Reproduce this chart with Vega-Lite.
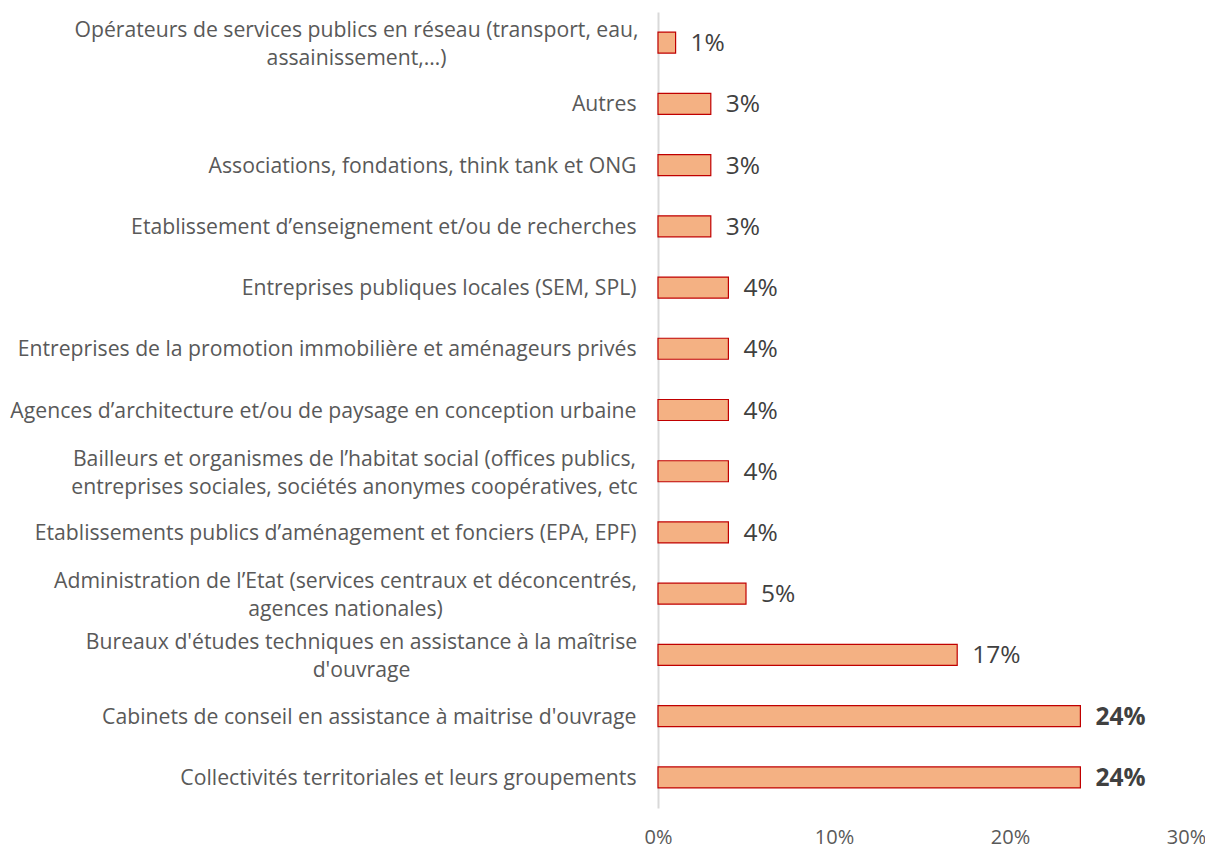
{
  "$schema": "https://vega.github.io/schema/vega-lite/v6.json",
  "width": 528,
  "height": 796,
  "autosize": {"type": "none"},
  "padding": {"left": 658, "top": 12, "right": 19, "bottom": 41},
  "background": "white",
  "config": {"view": {"stroke": null}, "font": "Open Sans"},
  "data": {
    "values": [
      {"categorie": "Opérateurs de services publics en réseau (transport, eau,|assainissement,…)", "pct": 1},
      {"categorie": "Autres", "pct": 3},
      {"categorie": "Associations, fondations, think tank et ONG", "pct": 3},
      {"categorie": "Etablissement d’enseignement et/ou de recherches", "pct": 3},
      {"categorie": "Entreprises publiques locales (SEM, SPL)", "pct": 4},
      {"categorie": "Entreprises de la promotion immobilière et aménageurs privés", "pct": 4},
      {"categorie": "Agences d’architecture et/ou de paysage en conception urbaine", "pct": 4},
      {"categorie": "Bailleurs et organismes de l’habitat social (offices publics,|entreprises sociales, sociétés anonymes coopératives, etc", "pct": 4},
      {"categorie": "Etablissements publics d’aménagement et fonciers (EPA, EPF)", "pct": 4},
      {"categorie": "Administration de l’Etat (services centraux et déconcentrés,|agences nationales)", "pct": 5},
      {"categorie": "Bureaux d'études techniques en assistance à la maîtrise|d'ouvrage", "pct": 17},
      {"categorie": "Cabinets de conseil en assistance à maitrise d'ouvrage", "pct": 24},
      {"categorie": "Collectivités territoriales et leurs groupements", "pct": 24}
    ]
  },
  "encoding": {
    "y": {
      "field": "categorie",
      "type": "nominal",
      "sort": null,
      "title": null,
      "axis": {
        "labelExpr": "split(datum.value, '|')",
        "labelFontSize": 21.2,
        "labelColor": "#595959",
        "labelLineHeight": 28,
        "labelLimit": 700,
        "labelOffset": {"condition": {"test": "indexof(datum.value, '|') >= 0", "value": -11.5}, "value": 1.5},
        "labelAlign": {"condition": {"test": "indexof(datum.value, '|') >= 0", "value": "center"}, "value": "right"},
        "labelPadding": {
          "condition": [
            {"test": "indexof(datum.value, 'Opérateurs') == 0", "value": 302},
            {"test": "indexof(datum.value, 'Bailleurs') == 0", "value": 304},
            {"test": "indexof(datum.value, 'Administration') == 0", "value": 313},
            {"test": "indexof(datum.value, 'Bureaux') == 0", "value": 297}
          ],
          "value": 22
        },
        "ticks": false,
        "domainColor": "#D9D9D9",
        "domainWidth": 2,
        "grid": false
      }
    },
    "x": {
      "field": "pct",
      "type": "quantitative",
      "scale": {"domain": [0, 30]},
      "title": null,
      "axis": {
        "values": [0, 10, 20, 30],
        "labelExpr": "datum.value + '%'",
        "labelFontSize": 20,
        "labelColor": "#595959",
        "labelPadding": 19,
        "labelFlush": false,
        "domain": false,
        "ticks": false,
        "grid": false
      }
    }
  },
  "layer": [
    {
      "mark": {"type": "bar", "size": 21, "fill": "#F4B183", "stroke": "#C00000", "strokeWidth": 1.2}
    },
    {
      "mark": {
        "type": "text",
        "align": "left",
        "baseline": "middle",
        "dx": 15,
        "dy": 1.5,
        "fontSize": 24.5,
        "color": "#404040",
        "fontWeight": {"expr": "datum.pct >= 24 ? 'bold' : 'normal'"}
      },
      "encoding": {
        "text": {"value": {"expr": "datum.pct + '%'"}}
      }
    }
  ]
}
